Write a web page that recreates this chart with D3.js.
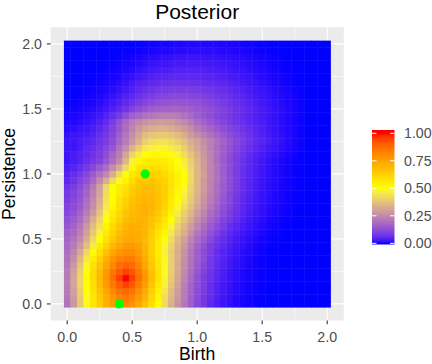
<!DOCTYPE html>
<html><head><meta charset="utf-8">
<script src="https://cdn.jsdelivr.net/npm/d3@7"></script>
<style>body{margin:0;background:#fff;} text{font-family:"Liberation Sans",Arial,sans-serif;}</style>
</head><body><svg id="c" width="432" height="364"></svg>
<script>
// grid coordinates (cell centres)
const birth = [0,0.05,0.1,0.15,0.2,0.25,0.3,0.35,0.4,0.45,0.5,0.55,0.6,0.65,0.7,0.75,0.8,0.85,0.9,0.95,1,1.05,1.1,1.15,1.2,1.25,1.3,1.35,1.4,1.45,1.5,1.55,1.6,1.65,1.7,1.75,1.8,1.85,1.9,1.95,2];
const persistence = [0,0.05,0.1,0.15,0.2,0.25,0.3,0.35,0.4,0.45,0.5,0.55,0.6,0.65,0.7,0.75,0.8,0.85,0.9,0.95,1,1.05,1.1,1.15,1.2,1.25,1.3,1.35,1.4,1.45,1.5,1.55,1.6,1.65,1.7,1.75,1.8,1.85,1.9,1.95,2];
// posterior intensity, percent of maximum; one row per persistence value (bottom to top), one entry per birth value
const density = [
[20,28,39,49,57,64,71,76,80,82,79,74,67,59,50,42,34,27,21,16, 11,8,5,3.3,2.1,1.3,0.76,0.42,0.22,0.1,0.04,0.02,0,0,0,0,0, 0,0,0,0],
[21,29,39,49,57,65,72,78,83,85,82,77,70,61,52,43,35,28,22,16, 12,8,5.5,3.6,2.3,1.4,0.82,0.45,0.23,0.11,0.05,0.02,0,0,0,0,0, 0,0,0,0],
[22,30,40,50,58,66,74,81,86,89,86,80,72,63,54,45,36,29,22,17, 12,9,6,4,2.6,1.6,0.95,0.52,0.27,0.13,0.06,0.02,0.01,0,0,0,0, 0,0,0,0],
[22,31,41,50,59,68,77,85,91,95,91,84,76,66,56,47,38,30,23,17, 13,9,6,4,2.7,1.7,1,0.56,0.3,0.15,0.07,0.03,0.01,0,0,0,0, 0,0,0,0],
[22,31,41,51,60,69,78,87,95,100,95,87,78,68,58,48,39,31,24,18, 13,9,7,4.7,3,1.9,1.1,0.64,0.34,0.17,0.08,0.03,0.01,0,0,0,0, 0,0,0,0],
[22,30,40,50,60,68,77,85,91,95,92,85,77,67,58,49,40,32,25,19, 14,10,7,5,3.2,2,1.2,0.7,0.38,0.19,0.09,0.04,0.01,0,0,0,0, 0,0,0,0],
[21,28,38,48,58,66,74,81,87,89,88,82,74,65,57,49,40,32,26,20, 15,11,8,5.5,3.7,2.4,1.5,0.88,0.48,0.24,0.11,0.05,0.02,0,0,0,0, 0,0,0,0],
[20,26,35,45,55,63,71,78,83,84,84,79,72,64,56,48,40,33,26,20, 16,12,8,6,4,2.7,1.7,1,0.58,0.3,0.14,0.06,0.02,0,0,0,0, 0,0,0,0],
[19,24,32,42,51,59,67,74,78,80,80,77,71,63,55,47,40,33,27,21, 16,12,9,6,4.2,2.9,1.9,1.15,0.66,0.35,0.17,0.07,0.03,0.01,0,0,0, 0,0,0,0],
[18,22,28,37,46,55,62,69,74,77,77,75,70,63,55,48,41,34,28,22, 17,13,9,7,5,3.3,2.2,1.4,0.8,0.44,0.22,0.1,0.04,0.01,0,0,0, 0,0,0,0],
[17,20,25,33,42,50,58,65,70,73,74,72,69,63,56,50,43,35,30,24, 19,15,11,8,6,4,2.8,1.8,1.1,0.62,0.33,0.16,0.07,0.03,0.01,0,0, 0,0,0,0],
[16,18,23,30,39,47,55,62,68,71,73,72,70,64,58,52,45,38,33,27, 21,17,13,10,7,5,3.6,2.4,1.5,0.9,0.52,0.28,0.14,0.06,0.02,0,0, 0,0,0,0],
[14,17,21,28,36,44,53,60,66,70,72,71,70,66,60,55,48,40,35,29, 24,19,15,12,9,6,4.5,3,2,1.25,0.75,0.43,0.23,0.11,0.05,0.02,0, 0,0,0,0],
[13,15,19,25,33,41,50,57,63,68,70,71,70,67,63,57,50,43,38,32, 26,22,17,14,10,8,5.5,3.8,2.5,1.6,1,0.6,0.34,0.18,0.08,0.03,0.01, 0,0,0,0],
[11,13,17,22,29,38,48,55,61,66,69,70,71,69,65,60,53,46,40,35, 29,24,19,16,12,9,6.5,4.5,3,2,1.3,0.8,0.46,0.25,0.12,0.05,0.02, 0,0,0,0],
[10,12,15,20,26,35,45,52,59,64,68,70,71,70,67,62,55,48,43,37, 31,26,21,17,13,10,7,4.9,3.4,2.3,1.5,0.95,0.56,0.31,0.15,0.07,0.02, 0,0,0,0],
[9,11,14,19,25,33,44,51,58,62,67,69,70,70,67,63,56,50,45,39, 33,27,22,18,14,11,7.5,5.2,3.6,2.5,1.65,1.05,0.62,0.35,0.18,0.08,0.03, 0,0,0,0],
[8,10,13,17,23,31,43,51,56,60,65,68,69,69,67,63,57,52,47,40, 34,28,23,19,15,11,8,5.7,4,2.7,1.8,1.15,0.7,0.4,0.2,0.09,0.03, 0,0,0,0],
[7,9,12,16,22,30,42,50,55,58,63,66,68,68,66,63,58,53,49,41, 35,29,24,19,15,12,8.5,6,4.2,2.9,1.9,1.2,0.75,0.42,0.22,0.1,0.04, 0,0,0,0],
[5,7,10,13,18,25,33,42,49,54,60,64,65,66,64,62,58,53,50,42, 35,29,24,20,16,12,9,6.3,4.4,3,2,1.3,0.8,0.45,0.24,0.11,0.05, 0,0,0,0],
[4,6,8,11,15,20,25,33,42,50,56,60,62,63,62,60,57,53,50,42, 35,30,24,20,16,12,9,6.4,4.5,3.1,2.1,1.35,0.82,0.47,0.25,0.12,0.05, 0,0,0,0],
[3,4,6,8,11,15,19,26,33,42,51,56,58,59,59,57,55,51,48,41, 35,29,24,20,15.5,12,9,6.6,4.7,3.3,2.2,1.4,0.85,0.5,0.26,0.12,0.05, 0,0,0,0],
[2,3,4,6,8,10,14,19,25,35,47,52,55,56,56,55,53,50,46,40, 34,29,24,19,15,11.8,9,6.7,4.9,3.4,2.3,1.5,0.95,0.55,0.3,0.14,0.06, 0,0,0,0],
[2,3,4,5,7,9,12,17,22,31,41,46,50,52,52,51,50,47,43,38, 33,28,24,19.5,15.5,12.2,9.5,7.2,5.4,3.9,2.8,1.9,1.25,0.78,0.45,0.22,0.1, 0,0,0,0],
[2,2,3,5,6,8,11,14,20,26,34,40,45,47,48,48,46,44,40,35, 31,27,23,19.3,16,13,10.4,8.2,6.3,4.8,3.5,2.5,1.7,1.1,0.65,0.35,0.15, 0,0,0,0],
[2,2,3,4,5,7,9,12,17,22,28,34,40,43,44,44,43,40,37,33, 30,26,23,19.5,16.5,13.6,11,8.9,7,5.4,4.1,3,2.1,1.4,0.85,0.45,0.2, 0,0,0,0],
[1.5,2,2.4,3,4,6,8,11,16,21,26,31,36,38,39,39,38,36,33,29, 26,23,20,17.2,14.6,12.3,10.2,8.3,6.6,5.1,3.9,2.8,1.95,1.3,0.8,0.43,0.2, 0,0,0,0],
[0.8,1.2,1.7,2.3,3.2,4.6,6.8,10,14,19,24,28,31,33,34,34,33,31,29,26, 22,19.3,16.8,14.5,12.4,10.5,8.8,7.2,5.8,4.5,3.4,2.5,1.75,1.15,0.7,0.38,0.17, 0,0,0,0],
[0.5,0.7,1.1,1.6,2.4,3.6,5.5,8.5,13,18,22,25,27,28,29,29,29,27,25,22, 19,16.5,14.3,12.3,10.5,8.9,7.4,6.1,4.9,3.9,3,2.2,1.6,1.05,0.65,0.35,0.15, 0,0,0,0],
[0.3,0.45,0.7,1.1,1.6,2.5,3.8,5.8,8.6,12.5,16,18,20,21,22,23,23,22,20,18, 16,14,12.3,10.8,9.3,8,6.8,5.7,4.6,3.6,2.8,2.1,1.5,1,0.62,0.35,0.17, 0,0,0,0],
[0.15,0.25,0.4,0.65,1,1.6,2.4,3.6,5.2,7.3,9.8,12,14,15.5,16.5,17,17.2,17,16.5,15.6, 14.6,13.5,12.3,11,9.7,8.4,7.1,5.9,4.8,3.8,2.9,2.2,1.6,1.1,0.7,0.4,0.2, 0,0,0,0],
[0.08,0.13,0.22,0.36,0.6,1,1.6,2.5,3.6,5.2,7,8.8,10.4,11.7,12.8,13.5,13.9,14,13.8,13.3, 12.6,11.8,10.8,9.7,8.6,7.4,6.3,5.2,4.2,3.3,2.5,1.85,1.3,0.9,0.58,0.34,0.16, 0,0,0,0],
[0.04,0.07,0.12,0.2,0.35,0.6,1,1.6,2.5,3.7,5.1,6.6,7.9,9,9.9,10.6,11,11.2,11.1,10.8, 10.3,9.6,8.9,8,7.1,6.2,5.2,4.3,3.5,2.7,2.1,1.55,1.1,0.75,0.48,0.28,0.13, 0,0,0,0],
[0.02,0.04,0.07,0.12,0.2,0.35,0.6,1,1.6,2.5,3.7,4.9,6,6.9,7.7,8.3,8.7,8.9,8.9,8.7, 8.4,8,7.4,6.7,6,5.2,4.4,3.6,2.9,2.3,1.7,1.25,0.88,0.58,0.36,0.2,0.09, 0,0,0,0],
[0.01,0.02,0.04,0.07,0.12,0.2,0.35,0.6,1,1.6,2.6,3.5,4.4,5.1,5.7,6.2,6.5,6.6,6.6,6.5, 6.3,6,5.6,5.1,4.6,4,3.4,2.8,2.2,1.7,1.25,0.9,0.6,0.38,0.22,0.12,0.05, 0,0,0,0],
[0,0,0.02,0.04,0.07,0.12,0.2,0.35,0.6,1.1,1.6,2.3,3,3.6,4.1,4.5,4.8,5,5,5, 5,4.7,4.3,3.9,3.5,3.1,2.6,2.1,1.7,1.3,0.95,0.67,0.45,0.28,0.16,0.08,0.04, 0,0,0,0],
[0,0,0.01,0.02,0.04,0.07,0.12,0.2,0.35,0.6,1,1.5,2,2.5,2.9,3.3,3.6,3.8,4,4, 4,3.7,3.4,3.1,2.8,2.4,2,1.65,1.3,1,0.72,0.5,0.33,0.2,0.11,0.06,0.03, 0,0,0,0],
[0,0,0,0.01,0.02,0.04,0.07,0.12,0.2,0.35,0.6,0.9,1.3,1.7,2,2.3,2.6,2.8,2.9,3, 3,2.8,2.6,2.4,2.2,1.9,1.6,1.3,1,0.75,0.55,0.38,0.24,0.14,0.08,0.04,0.02, 0,0,0,0],
[0,0,0,0,0.01,0.02,0.03,0.06,0.1,0.18,0.3,0.5,0.7,0.95,1.2,1.4,1.6,1.8,1.9,2, 2,1.9,1.8,1.65,1.45,1.25,1.05,0.85,0.65,0.48,0.34,0.23,0.14,0.08,0.04,0.02,0.01, 0,0,0,0],
[0,0,0,0,0,0.01,0.01,0.02,0.04,0.07,0.12,0.2,0.3,0.42,0.55,0.68,0.8,0.9,1,1.05, 1.1,1.1,1.05,0.95,0.85,0.72,0.6,0.48,0.37,0.27,0.19,0.12,0.07,0.04,0.02,0.01,0, 0,0,0,0],
[0,0,0,0,0,0,0,0.01,0.02,0.04,0.06,0.1,0.15,0.22,0.3,0.38,0.47,0.55,0.62,0.7, 0.75,0.78,0.75,0.7,0.6,0.5,0.4,0.3,0.22,0.15,0.1,0.06,0.04,0.02,0.01,0,0, 0,0,0,0]
];
const observedBirth = [0.4, 0.6];
const observedPersistence = [0, 1];
const axisBreaks = [0, 0.5, 1, 1.5, 2];
const axisLabels = ["0.0", "0.5", "1.0", "1.5", "2.0"];
const minorBreaks = [0.25, 0.75, 1.25, 1.75];
const legendBreaks = [0, 0.25, 0.5, 0.75, 1];
const legendLabels = ["0.00", "0.25", "0.50", "0.75", "1.00"];

const svg = d3.select("#c");
svg.append("rect").attr("width", 432).attr("height", 364).attr("fill", "#ffffff");

const x = d3.scaleLinear().domain([-0.1275, 2.1275]).range([50.6, 343.8]);
const y = d3.scaleLinear().domain([-0.1275, 2.1275]).range([320.5, 27.3]);
const lowPal = d3.interpolateLab("#0000ff", "#ffff00");
const highPal = d3.interpolateLab("#ffff00", "#ff0000");
const fill = v => v <= 0.5 ? lowPal(v / 0.5) : highPal((v - 0.5) / 0.5);

// panel
svg.append("rect").attr("x", 50.6).attr("y", 27.3).attr("width", 293.2).attr("height", 293.2).attr("fill", "#ebebeb");
const g = svg.append("g");
minorBreaks.forEach(b => {
  g.append("line").attr("x1", x(b)).attr("x2", x(b)).attr("y1", 27.3).attr("y2", 320.5).attr("stroke", "#fff").attr("stroke-width", 0.6);
  g.append("line").attr("y1", y(b)).attr("y2", y(b)).attr("x1", 50.6).attr("x2", 343.8).attr("stroke", "#fff").attr("stroke-width", 0.6);
});
axisBreaks.forEach(b => {
  g.append("line").attr("x1", x(b)).attr("x2", x(b)).attr("y1", 27.3).attr("y2", 320.5).attr("stroke", "#fff").attr("stroke-width", 1.1);
  g.append("line").attr("y1", y(b)).attr("y2", y(b)).attr("x1", 50.6).attr("x2", 343.8).attr("stroke", "#fff").attr("stroke-width", 1.1);
});

// raster
const half = 0.025;
const cells = [];
density.forEach((row, j) => row.forEach((v, i) => cells.push({b: birth[i], p: persistence[j], v: v / 100})));
svg.append("g").selectAll("rect").data(cells).join("rect")
  .attr("x", d => x(d.b - half))
  .attr("y", d => y(d.p + half))
  .attr("width", d => x(d.b + half) - x(d.b - half) + 0.4)
  .attr("height", d => y(d.p - half) - y(d.p + half) + 0.4)
  .attr("fill", d => fill(d.v));

// observed points
svg.append("g").selectAll("circle").data(observedBirth.map((b, k) => ({b, p: observedPersistence[k]}))).join("circle")
  .attr("cx", d => x(d.b)).attr("cy", d => y(d.p)).attr("r", 4.6).attr("fill", "#00ff00");

// axes
const ax = svg.append("g");
axisBreaks.forEach((b, k) => {
  ax.append("line").attr("x1", x(b)).attr("x2", x(b)).attr("y1", 320.5).attr("y2", 324.2).attr("stroke", "#333").attr("stroke-width", 1.1);
  ax.append("text").attr("x", x(b)).attr("y", 342).attr("text-anchor", "middle").attr("font-size", 14.2).attr("fill", "#4d4d4d").text(axisLabels[k]);
  ax.append("line").attr("x1", 46.9).attr("x2", 50.6).attr("y1", y(b)).attr("y2", y(b)).attr("stroke", "#333").attr("stroke-width", 1.1);
  ax.append("text").attr("x", 42).attr("y", y(b) + 5.1).attr("text-anchor", "end").attr("font-size", 14.2).attr("fill", "#4d4d4d").text(axisLabels[k]);
});
svg.append("text").attr("x", 197.2).attr("y", 360).attr("text-anchor", "middle").attr("font-size", 17.6).attr("fill", "#000").text("Birth");
svg.append("text").attr("transform", "translate(15,174) rotate(-90)").attr("text-anchor", "middle").attr("font-size", 17.6).attr("fill", "#000").text("Persistence");
svg.append("text").attr("x", 197.2).attr("y", 19).attr("text-anchor", "middle").attr("font-size", 21).attr("fill", "#000").text("Posterior");

// legend
const ly = d3.scaleLinear().domain([0, 1]).range([243.3, 133.3]);
const defs = svg.append("defs");
const grad = defs.append("linearGradient").attr("id", "lg").attr("gradientUnits", "userSpaceOnUse")
  .attr("x1", 0).attr("x2", 0).attr("y1", ly(0)).attr("y2", ly(1));
d3.range(0, 1.0001, 0.02).forEach(t => grad.append("stop").attr("offset", t).attr("stop-color", fill(t)));
svg.append("rect").attr("x", 372).attr("y", 130).attr("width", 22.5).attr("height", 114.5).attr("fill", "url(#lg)");
legendBreaks.forEach((b, k) => {
  svg.append("line").attr("x1", 372).attr("x2", 376.5).attr("y1", ly(b)).attr("y2", ly(b)).attr("stroke", "#fff").attr("stroke-width", 1);
  svg.append("line").attr("x1", 390).attr("x2", 394.5).attr("y1", ly(b)).attr("y2", ly(b)).attr("stroke", "#fff").attr("stroke-width", 1);
  svg.append("text").attr("x", 404).attr("y", ly(b) + 5.1).attr("font-size", 14.2).attr("fill", "#4d4d4d").text(legendLabels[k]);
});
</script></body></html>
